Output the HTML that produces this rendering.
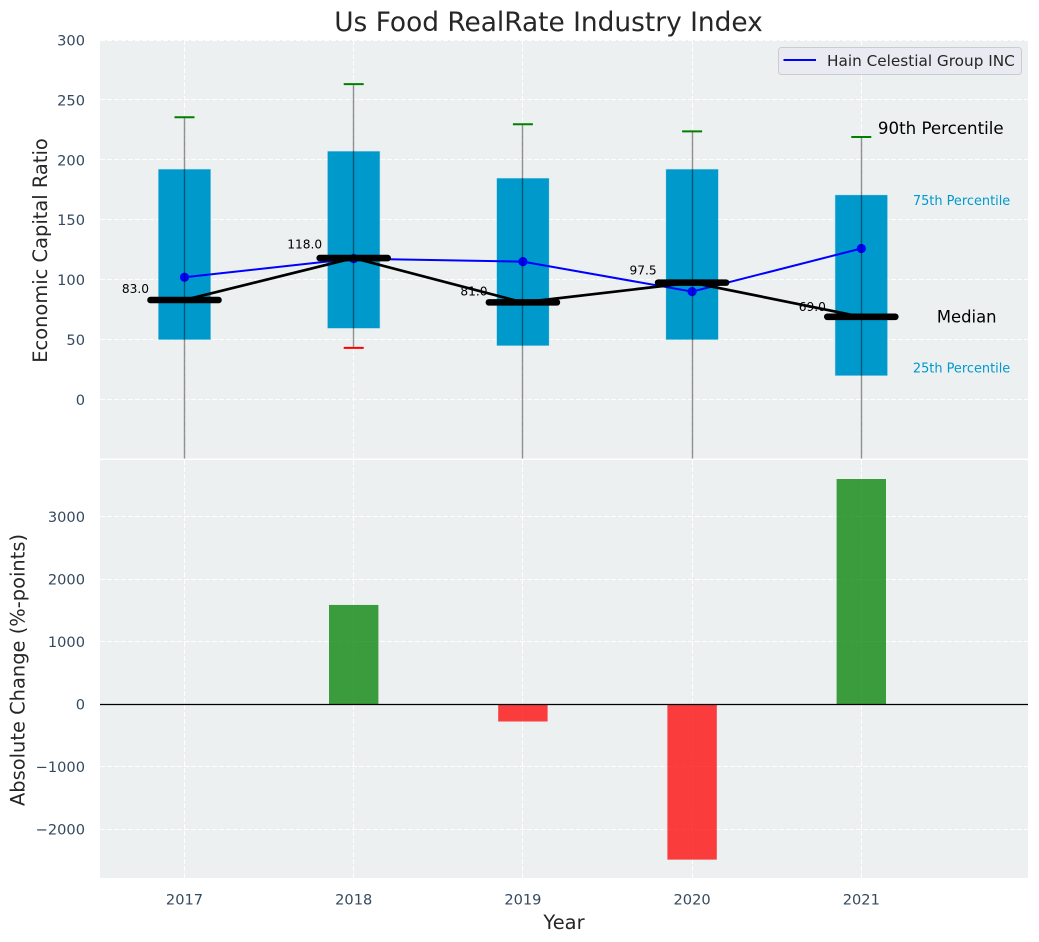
<!DOCTYPE html>
<html lang="en">
<head>
<meta charset="utf-8">
<title>Us Food RealRate Industry Index</title>
<style>
html,body{margin:0;padding:0;background:#fff;width:1039px;height:942px;overflow:hidden}
svg{display:block}
text{font-family:"DejaVu Sans","Liberation Sans",sans-serif}
</style>
</head>
<body>
<svg id="chart" xmlns="http://www.w3.org/2000/svg" width="1039" height="942" viewBox="0 0 1039 942"></svg>
<script>
const years = [2017, 2018, 2019, 2020, 2021];
const q1Values = [50, 59.5, 45, 50, 20];
const q3Values = [192, 207, 184.5, 192, 170.5];
const upperWhisker = [235.5, 263.2, 229.7, 223.7, 219];
const lowerWhisker = [-90, 43, -90, -90, -90];
const medians = [83, 118, 81, 97.5, 69];
const companyValues = [102, 117.5, 115, 90, 126];
const changeYears = [2018, 2019, 2020, 2021];
const changeValues = [1585, -280, -2490, 3600];
const topTicks = [0, 50, 100, 150, 200, 250, 300];
const bottomTicks = [-2000, -1000, 0, 1000, 2000, 3000];

const NS = 'http://www.w3.org/2000/svg';
const svg = document.getElementById('chart');
const L = 100, R = 1028, T1 = 40, B1 = 458.5, T2 = 460, B2 = 878;
const x = v => 184.5 + (v - 2017) * 169.2;
const y1 = v => T1 + (300 - v) * (B1 - T1) / 349.3;
const y2 = v => T2 + (3904 - v) * (B2 - T2) / 6688;
const snap = p => Math.floor(p) + 0.5;

function mk(tag, attrs, parent) {
  const node = document.createElementNS(NS, tag);
  for (const k in attrs) node.setAttribute(k, attrs[k]);
  (parent || svg).appendChild(node);
  return node;
}
function txt(s, attrs, parent) {
  const node = mk('text', attrs, parent);
  node.textContent = s;
  return node;
}
function fmt(v) { return String(v).replace('-', '\u2212'); }

const defsEl = mk('defs', {});
const clipEl = mk('clipPath', {id: 'clip-top'}, defsEl);
mk('rect', {x: L, y: T1, width: R - L, height: B1 - T1}, clipEl);

/* axes backgrounds */
let el = mk('rect', {x: L, y: T1, width: R - L, height: B1 - T1, fill: '#ecf0f1'});


el = mk('rect', {x: L, y: T2, width: R - L, height: B2 - T2, fill: '#ecf0f1'});



/* grid */
const gridStyle = {stroke: '#fff', 'stroke-width': 1, 'stroke-dasharray': '5,2', opacity: 0.95};
years.forEach(v => {
  el = mk('line', {x1: snap(x(v)), x2: snap(x(v)), y1: T1, y2: B1, ...gridStyle});
  
  
  el = mk('line', {x1: snap(x(v)), x2: snap(x(v)), y1: T2, y2: B2, ...gridStyle});
  
  
});
topTicks.forEach(v => {
  el = mk('line', {x1: L, x2: R, y1: snap(y1(v)), y2: snap(y1(v)), ...gridStyle});
  
  
});
bottomTicks.forEach(v => {
  el = mk('line', {x1: L, x2: R, y1: snap(y2(v)), y2: snap(y2(v)), ...gridStyle});
  
  
});

/* top chart marks */
const topGroup = mk('g', {'clip-path': 'url(#clip-top)'});



const boxHalf = 26, medHalf = 34, capHalf = 10;
years.forEach((yr, i) => {
  el = mk('rect', {x: x(yr) - boxHalf, y: y1(q3Values[i]), width: boxHalf * 2, height: y1(q1Values[i]) - y1(q3Values[i]), fill: '#0099cc', stroke: '#0099cc', 'stroke-opacity': 0.2, 'stroke-width': 1}, topGroup);
  
  
});

const pts = (vals) => years.map((yr, i) => x(yr) + ',' + y1(vals[i])).join(' ');

el = mk('polyline', {points: pts(companyValues), fill: 'none', stroke: '#0000ff', 'stroke-width': 2}, topGroup);


years.forEach((yr, i) => {
  el = mk('circle', {cx: x(yr), cy: y1(companyValues[i]), r: 4.6, fill: '#0000ff'}, topGroup);
  
  
});

el = mk('polyline', {points: pts(medians), fill: 'none', stroke: '#000', 'stroke-width': 2.7}, topGroup);


years.forEach((yr, i) => {
  el = mk('line', {x1: x(yr) - medHalf, x2: x(yr) + medHalf, y1: y1(medians[i]), y2: y1(medians[i]), stroke: '#000', 'stroke-width': 6.6, 'stroke-linecap': 'round'}, topGroup);
  
  
});

years.forEach((yr, i) => {
  el = mk('line', {x1: snap(x(yr)), x2: snap(x(yr)), y1: y1(upperWhisker[i]), y2: y1(lowerWhisker[i]), stroke: '#000', 'stroke-width': 1.4, opacity: 0.42}, topGroup);
  
  
  el = mk('line', {x1: x(yr) - capHalf, x2: x(yr) + capHalf, y1: y1(upperWhisker[i]), y2: y1(upperWhisker[i]), stroke: '#008000', 'stroke-width': 2}, topGroup);
  
  
  el = mk('line', {x1: x(yr) - capHalf, x2: x(yr) + capHalf, y1: y1(lowerWhisker[i]), y2: y1(lowerWhisker[i]), stroke: '#ff0000', 'stroke-width': 2}, topGroup);
  
  
});

/* median labels */
years.forEach((yr, i) => {
  el = txt(medians[i].toFixed(1), {x: x(yr) - 49, y: y1(medians[i]) - (5.6 + medians[i] * 0.07) + 4.5, 'text-anchor': 'middle', 'font-size': 12.2, fill: '#000'});
  
  
});

/* annotations */
const lastX = x(years[years.length - 1]);
el = txt('90th Percentile', {x: lastX + 16.6, y: y1(upperWhisker[4]) - 3, 'font-size': 16.67, fill: '#000'});


el = txt('75th Percentile', {x: lastX + 51.6, y: y1(q3Values[4]) + 10, 'font-size': 12.9, fill: '#0099cc'});


el = txt('Median', {x: lastX + 75.6, y: y1(medians[4]) + 5.5, 'font-size': 16.4, fill: '#000'});


el = txt('25th Percentile', {x: lastX + 51.6, y: y1(q1Values[4]) - 3, 'font-size': 12.9, fill: '#0099cc'});



/* legend */
const legendGroup = mk('g', {});


el = mk('rect', {x: 778.5, y: 47.5, width: 243, height: 27, rx: 3, fill: '#eaeaf2', stroke: '#cccccc', 'stroke-width': 1}, legendGroup);


el = mk('line', {x1: 783.5, x2: 816, y1: 60, y2: 60, stroke: '#0000ff', 'stroke-width': 2}, legendGroup);


el = txt('Hain Celestial Group INC', {x: 827, y: 66, 'font-size': 15.28, fill: '#262626'}, legendGroup);



/* bottom chart */
changeYears.forEach((yr, i) => {
  const v = changeValues[i];
  el = mk('rect', {x: x(yr) - 24.7, y: Math.min(y2(v), y2(0)), width: 49.4, height: Math.abs(y2(v) - y2(0)), fill: v >= 0 ? '#008000' : '#ff0000', opacity: 0.75});
  
  
});
el = mk('line', {x1: L, x2: R, y1: snap(y2(0)), y2: snap(y2(0)), stroke: '#000', 'stroke-width': 1.2});



/* tick labels */
const tickColor = '#34495e';
topTicks.forEach(v => {
  el = txt(fmt(v), {x: 85, y: y1(v) + 5.5, 'text-anchor': 'end', 'font-size': 14.6, fill: tickColor});
  
  
});
bottomTicks.forEach(v => {
  el = txt(fmt(v), {x: 85, y: y2(v) + 5.5, 'text-anchor': 'end', 'font-size': 14.6, fill: tickColor});
  
  
});
years.forEach(v => {
  el = txt(String(v), {x: x(v), y: 904.7, 'text-anchor': 'middle', 'font-size': 14.6, fill: tickColor});
  
  
});

/* titles */
el = txt('Us Food RealRate Industry Index', {x: 548.5, y: 31, 'text-anchor': 'middle', 'font-size': 26.4, fill: '#262626'});


el = txt('Year', {x: 564, y: 929, 'text-anchor': 'middle', 'font-size': 19.44, fill: '#262626'});


el = txt('Economic Capital Ratio', {x: 0, y: 0, 'text-anchor': 'middle', 'font-size': 19.44, fill: '#262626', transform: 'translate(47,250.5) rotate(-90)'});


el = txt('Absolute Change (%-points)', {x: 0, y: 0, 'text-anchor': 'middle', 'font-size': 19.44, fill: '#262626', transform: 'translate(24.5,670) rotate(-90)'});


</script>
</body>
</html>
